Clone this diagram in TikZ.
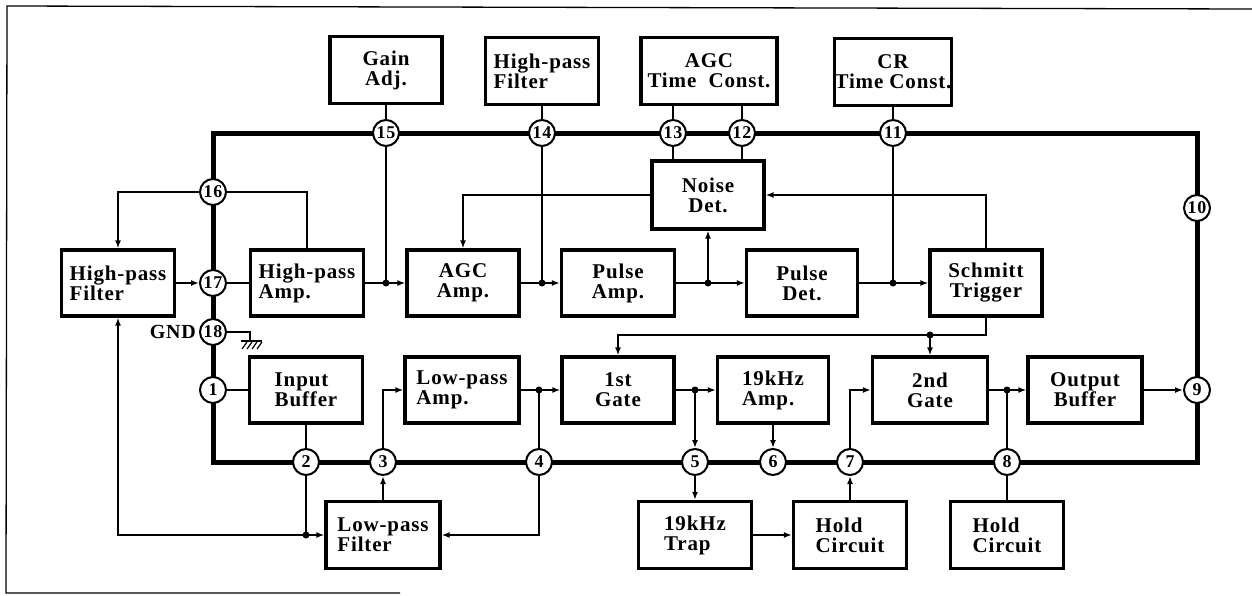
\documentclass[tikz,border=0pt]{standalone}
\usepackage{fontspec}
\setmainfont{Liberation Serif}[LetterSpace=4]
\usetikzlibrary{arrows.meta}
\begin{document}
\begin{tikzpicture}[x=1pt,y=-1pt,
  blk/.style={draw,line width=3.3pt,minimum width=113pt,minimum height=66pt,inner sep=0pt,align=center,font=\fontsize{21}{20}\selectfont\bfseries},
  blkl/.style={blk,align=left},
  pin/.style={circle,draw,line width=2pt,fill=white,minimum size=26pt,inner sep=0pt,font=\fontsize{18}{18}\selectfont\bfseries},
  bus/.style={line width=5pt,line join=miter},
  wire/.style={line width=1.6pt},
  arr/.style={wire,-{Latex[length=8pt,width=6pt]}},
  dot/.style={circle,fill,inner sep=0pt,minimum size=7pt},
]
\useasboundingbox (0,0) rectangle (1252,595);
% frame
\draw[line width=1.3pt] (1252,9) -- (7,6) -- (6,593) -- (400,593);
% bus
\coordinate (btl) at (213,133);
\coordinate (btr) at (1197,133);
\coordinate (bbr) at (1197,462);
\coordinate (bbl) at (213,462);
\draw[bus] (btl) -- (btr) -- (bbr) -- (bbl) -- cycle;
% pins
\node[pin] (p15) at (386,133) {15};
\node[pin] (p14) at (542,133) {14};
\node[pin] (p13) at (673,133) {13};
\node[pin] (p12) at (742,133) {12};
\node[pin] (p11) at (893,133) {11};
\node[pin] (p10) at (1197,208) {10};
\node[pin] (p9) at (1197,390) {9};
\node[pin] (p16) at (213,192) {16};
\node[pin] (p17) at (213,283) {17};
\node[pin] (p18) at (213,332) {18};
\node[pin] (p1) at (213,390) {1};
\node[pin] (p2) at (306,462) {2};
\node[pin] (p3) at (383,462) {3};
\node[pin] (p4) at (539,462) {4};
\node[pin] (p5) at (695,462) {5};
\node[pin] (p6) at (773,462) {6};
\node[pin] (p7) at (850,462) {7};
\node[pin] (p8) at (1007,462) {8};
% top boxes
\node[blk,minimum width=112pt,minimum height=67pt] (gain) at (386,70) {Gain\\Adj.};
\node[blkl,minimum height=67pt] (hpft) at (542,71) {High-pass\\Filter};
\node[blk,minimum width=136pt,minimum height=67pt] (agctc) at (709,71) {AGC\\Time~ Const.};
\node[blk,minimum width=114pt,minimum height=67pt] (crtc) at (893,72) {CR\\Time Const.};
% noise
\node[blk,minimum width=112pt,minimum height=68pt] (noise) at (708,195) {Noise\\Det.};
% middle row
\node[blkl] (hpfl) at (118,283) {High-pass\\Filter};
\node[blkl] (hpamp) at (307,283) {High-pass\\Amp.};
\node[blk,minimum width=112pt] (agcamp) at (463,283) {AGC\\Amp.};
\node[blk] (pulseamp) at (618,283) {Pulse\\Amp.};
\node[blk,minimum width=111pt] (pulsedet) at (802,283) {Pulse\\Det.};
\node[blk,minimum width=112pt] (schmitt) at (986,283) {Schmitt\\Trigger};
% lower row
\node[blkl] (inbuf) at (306,390) {Input\\Buffer};
\node[blkl,minimum width=114pt] (lpamp) at (462,390) {Low-pass\\Amp.};
\node[blk,minimum width=112pt] (gate1) at (618,390) {1st\\Gate};
\node[blkl,minimum width=111pt] (amp19) at (773,390) {19kHz\\Amp.};
\node[blk,minimum width=115pt] (gate2) at (930,390) {2nd\\Gate};
\node[blk,minimum width=114pt] (outbuf) at (1085,390) {Output\\Buffer};
% bottom row
\node[blkl,minimum width=114pt,minimum height=67pt] (lpf) at (383,535) {Low-pass\\Filter};
\node[blkl,minimum height=67pt] (trap) at (695,535) {19kHz\\Trap};
\node[blkl,minimum height=67pt] (hold1) at (850,535) {Hold\\Circuit};
\node[blkl,minimum height=67pt] (hold2) at (1007,535) {Hold\\Circuit};
% GND
\node[anchor=east,inner sep=0pt,font=\fontsize{20}{20}\selectfont\bfseries] (gndl) at ([xshift=-3pt]p18.west) {GND};
\coordinate (gnd) at (250,341);
\draw[wire] (p18.east) -| (gnd);
\draw[wire] (241,341) -- (262,341);
\foreach \i in {0,1,2,3} \draw[line width=1.2pt] (247+5*\i,342) -- (242+5*\i,349);
% junctions
\coordinate (j15) at (386,283);
\coordinate (j14) at (542,283);
\coordinate (jp) at (708,283);
\coordinate (j11) at (893,283);
\coordinate (j2) at (306,535);
\coordinate (j4) at (539,390);
\coordinate (js) at (930,335);
\coordinate (j5) at (695,390);
\coordinate (j8) at (1007,390);
% top connections
\draw[wire] (gain.south) -- (p15.north);
\draw[wire] (p15.south) -- (j15);
\draw[wire] (hpft.south) -- (p14.north);
\draw[wire] (p14.south) -- (j14);
\draw[wire] (agctc.south -| p13) -- (p13.north);
\draw[wire] (agctc.south -| p12) -- (p12.north);
\draw[wire] (p13.south) -- (noise.north -| p13);
\draw[wire] (p12.south) -- (noise.north -| p12);
\draw[wire] (crtc.south) -- (p11.north);
\draw[wire] (p11.south) -- (j11);
% middle row
\draw[arr] (p16.west) -| (hpfl.north);
\draw[wire] (p16.east) -| (hpamp.north);
\draw[arr] (hpfl.east) -- (p17.west);
\draw[wire] (p17.east) -- (hpamp.west);
\draw[arr] (hpamp.east) -- (agcamp.west);
\draw[arr] (agcamp.east) -- (pulseamp.west);
\draw[arr] (pulseamp.east) -- (pulsedet.west);
\draw[arr] (jp) -- (noise.south);
\draw[arr] (pulsedet.east) -- (schmitt.west);
\draw[arr] (noise.west) -| (agcamp.north);
\draw[arr] (schmitt.north) |- (noise.east);
% lower
\draw[wire] (p1.east) -- (inbuf.west);
\draw[wire] (inbuf.south) -- (p2.north);
\draw[wire] (p2.south) -- (j2);
\draw[arr] (j2) -| (hpfl.south);
\draw[arr] (j2) -- (lpf.west);
\draw[arr] (lpf.north) -- (p3.south);
\draw[arr] (p3.north) |- (lpamp.west);
\draw[arr] (lpamp.east) -- (gate1.west);
\draw[wire] (j4) -- (p4.north);
\draw[arr] (p4.south) |- (lpf.east);
\draw[arr] (schmitt.south) |- (js) -| (gate1.north);
\draw[arr] (js) -- (gate2.north);
\draw[arr] (gate1.east) -- (amp19.west);
\draw[arr] (j5) -- (p5.north);
\draw[arr] (p5.south) -- (trap.north);
\draw[arr] (amp19.south) -- (p6.north);
\draw[arr] (trap.east) -- (hold1.west);
\draw[arr] (hold1.north) -- (p7.south);
\draw[arr] (p7.north) |- (gate2.west);
\draw[arr] (gate2.east) -- (outbuf.west);
\draw[wire] (j8) -- (p8.north);
\draw[wire] (p8.south) -- (hold2.north);
\draw[arr] (outbuf.east) -- (p9.west);
% dots
\foreach \j in {j15,j14,jp,j11,j2,j4,js,j5,j8} \node[dot] (d\j) at (\j) {};
\end{tikzpicture}
\end{document}
